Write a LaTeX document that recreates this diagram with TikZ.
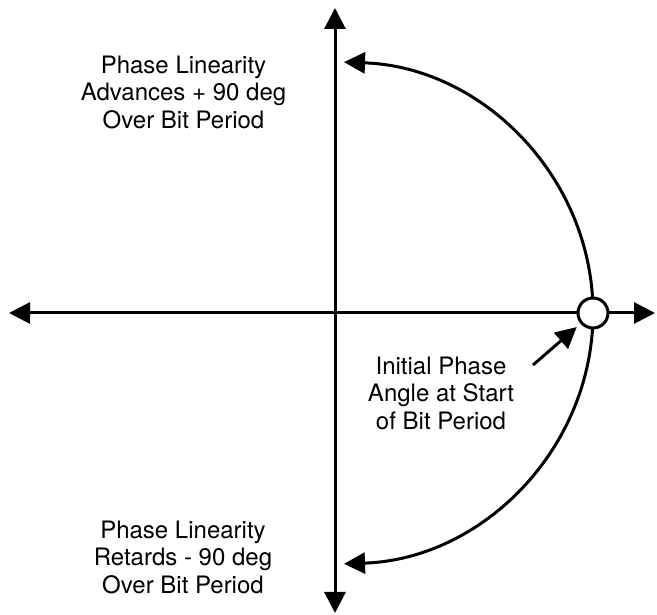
\documentclass[tikz,border=0pt]{standalone}
\usepackage{fontspec}
\setmainfont{TeX Gyre Heros}
\usetikzlibrary{arrows.meta}
\begin{document}
\begin{tikzpicture}[x=1pt,y=1pt,
  line/.style={line width=3pt},
  tip/.style={-{Triangle[length=21pt,width=21pt]}},
  tips/.style={{Triangle[length=21pt,width=21pt]}-{Triangle[length=21pt,width=21pt]}},
  lbl/.style={align=center,inner sep=0pt,font=\fontsize{24}{27.5}\selectfont}]
\useasboundingbox (0,0) rectangle (657,615);
\coordinate (o) at (335,302);
\coordinate (vb) at (335,2);
\coordinate (vt) at (335,607);
\coordinate (hl) at (9,302);
\coordinate (hr) at (655,302);
\coordinate (tail) at (533,250);
% axes
\draw[line,tips] (vb) -- (vt);
\draw[line,tips] (hl) -- (hr);
% arcs
\coordinate (start) at (593,302);
\draw[line,tip] (start) arc[start angle=0,end angle=88,x radius=258,y radius=251];
\draw[line,tip] (start) arc[start angle=0,end angle=-88,x radius=258,y radius=251];
% initial point
\node[circle,draw,line width=3pt,fill=white,minimum size=30pt,inner sep=0pt] (pt) at (start) {};
\draw[line,tip,shorten >=5pt] (tail) -- (pt);
% labels
\node[lbl] (adv) at (183.5,522.75) {Phase Linearity\\Advances + 90 deg\\Over Bit Period};
\node[lbl] (ret) at (183,57.75) {Phase Linearity\\Retards - 90 deg\\Over Bit Period};
\node[lbl] (ini) at (441,221.75) {Initial Phase\\Angle at Start\\of Bit Period};
\end{tikzpicture}
\end{document}
